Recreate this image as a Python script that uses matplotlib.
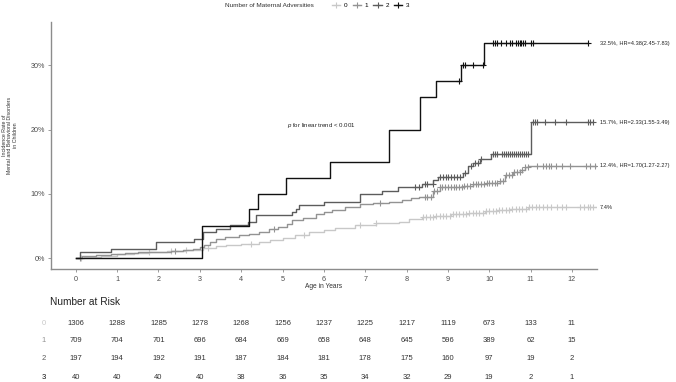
import numpy as np
import matplotlib
matplotlib.use("Agg")
import matplotlib.pyplot as plt
from matplotlib.lines import Line2D
from matplotlib import transforms

plt.rcParams['font.family'] = ['Liberation Sans', 'DejaVu Sans']
plt.rcParams['mathtext.fontset'] = 'custom'
plt.rcParams['mathtext.rm'] = 'Liberation Sans'
plt.rcParams['mathtext.it'] = 'Liberation Sans:italic'

# cumulative incidence (%) step curves
t0 = [0, 0.2, 0.6, 1.0, 1.4, 1.78, 2.2, 2.67, 3.07, 3.4, 3.63, 4.0, 4.43, 4.7, 5.0, 5.3,
      5.64, 6.0, 6.28, 6.76, 7.25, 7.81, 8.05, 8.37, 8.7, 9.08, 9.5, 9.9, 10.2, 10.5, 10.94]
v0 = [0, 0.2, 0.4, 0.6, 0.8, 1.0, 1.15, 1.3, 1.65, 1.85, 2.0, 2.2, 2.5, 2.8, 3.2, 3.6,
      4.1, 4.4, 4.75, 5.1, 5.5, 5.6, 6.15, 6.4, 6.6, 6.9, 7.1, 7.3, 7.5, 7.7, 7.95]
t1 = [0, 0.15, 0.5, 0.86, 1.2, 1.5, 1.94, 2.3, 2.6, 2.83, 3.0, 3.1, 3.25, 3.4, 3.6, 3.95,
      4.2, 4.43, 4.67, 4.9, 5.1, 5.24, 5.5, 5.8, 6.0, 6.2, 6.5, 6.88, 7.2, 7.57, 7.9, 8.12,
      8.3, 8.44, 8.64, 8.8, 9.1, 9.4, 9.6, 9.93, 10.25, 10.37, 10.57, 10.75, 10.86, 10.94]
v1 = [0, 0.3, 0.5, 0.7, 0.8, 0.9, 1.0, 1.15, 1.3, 1.5, 1.7, 2.1, 2.6, 3.05, 3.3, 3.6,
      3.8, 4.1, 4.5, 4.9, 5.4, 5.9, 6.3, 6.9, 7.2, 7.55, 7.9, 8.4, 8.55, 8.7, 9.0, 9.35,
      9.45, 9.55, 10.45, 11.0, 11.1, 11.2, 11.6, 11.75, 12.0, 12.9, 13.4, 13.75, 14.2, 14.4]
t2 = [0, 0.11, 0.86, 1.93, 2.87, 3.07, 3.40, 3.72, 4.17, 4.37, 5.24, 5.32, 5.4, 6.0, 6.88,
      7.4, 7.8, 8.37, 8.65, 8.77, 9.37, 9.49, 9.61, 9.78, 10.05, 11.02]
v2 = [0, 1.0, 1.5, 2.55, 3.0, 4.1, 4.6, 5.1, 5.6, 6.7, 7.2, 7.7, 8.2, 8.7, 10.0,
      10.5, 11.05, 11.6, 12.2, 12.7, 13.3, 14.3, 14.8, 15.4, 16.2, 21.1]
t3 = [0, 3.05, 4.2, 4.4, 5.09, 6.14, 7.58, 8.33, 8.71, 9.32, 9.88]
v3 = [0, 5.0, 7.6, 10.0, 12.5, 15.0, 20.0, 25.0, 27.5, 30.0, 33.4]
end_times = [12.58, 12.58, 12.5, 12.39]

# censoring marks (years)
c0 = [0.12, 1.78, 2.3, 2.67, 3.2, 4.23, 5.53, 6.87, 7.27, 8.4, 8.48, 8.56, 8.64, 8.72,
      8.8, 8.88, 8.96, 9.04, 9.12, 9.2, 9.28, 9.36, 9.44, 9.52, 9.6, 9.68, 9.76, 9.84,
      9.92, 10.0, 10.08, 10.16, 10.24, 10.32, 10.4, 10.48, 10.56, 10.64, 10.72, 10.8,
      10.88, 10.96, 11.04, 11.12, 11.2, 11.3, 11.4, 11.5, 11.65, 11.75, 11.85, 12.2,
      12.3, 12.38, 12.45, 12.52]
c1 = [0.1, 2.4, 4.8, 7.35, 8.45, 8.5, 8.58, 8.66, 8.74, 8.8, 8.87, 8.94, 9.0, 9.07,
      9.14, 9.2, 9.27, 9.34, 9.4, 9.47, 9.54, 9.6, 9.67, 9.74, 9.8, 9.87, 9.94, 10.0,
      10.07, 10.14, 10.2, 10.27, 10.34, 10.4, 10.47, 10.54, 10.6, 10.67, 10.74, 10.8,
      10.87, 10.93, 11.15, 11.3, 11.38, 11.45, 11.5, 11.62, 11.75, 11.95, 12.35, 12.45,
      12.55]
c2 = [8.2, 8.3, 8.44, 8.5, 8.64, 8.8, 8.88, 8.95, 9.0, 9.08, 9.15, 9.22, 9.3, 9.41,
      9.57, 9.65, 9.72, 9.8, 10.1, 10.15, 10.2, 10.3, 10.35, 10.4, 10.45, 10.5, 10.55,
      10.6, 10.65, 10.7, 10.75, 10.8, 10.85, 10.9, 10.95, 11.05, 11.1, 11.15, 11.35,
      11.6, 11.85, 12.4, 12.45, 12.5]
c3 = [9.28, 9.37, 9.41, 9.6, 9.85, 10.08, 10.13, 10.19, 10.29, 10.41, 10.5, 10.56,
      10.64, 10.7, 10.74, 10.78, 10.82, 10.86, 11.0, 11.06, 12.39]

groups = ['0', '1', '2', '3']
colors = ['#c8c8c8', '#939393', '#5c5c5c', '#111111']
end_labels = ['7.4%', '12.4%, HR=1.70(1.27-2.27)', '15.7%, HR=2.33(1.55-3.49)',
              '32.5%, HR=4.38(2.45-7.83)']

risk_years = list(range(13))
risk_0 = [1306, 1288, 1285, 1278, 1268, 1256, 1237, 1225, 1217, 1119, 673, 133, 11]
risk_1 = [709, 704, 701, 696, 684, 669, 658, 648, 645, 596, 389, 62, 15]
risk_2 = [197, 194, 192, 191, 187, 184, 181, 178, 175, 160, 97, 19, 2]
risk_3 = [40, 40, 40, 40, 38, 36, 35, 34, 32, 29, 19, 2, 1]

W, H = 676, 382
fig = plt.figure(figsize=(W / 100, H / 100), dpi=100)
ax = fig.add_axes([51 / W, 1 - 269.3 / H, (596.7 - 51) / W, (269.3 - 22) / H])

curves = [(t0, v0, c0), (t1, v1, c1), (t2, v2, c2), (t3, v3, c3)]
for (t, v, c), col, end, lab in zip(curves, colors, end_times, end_labels):
    t = np.array(t)
    v = np.array(v)
    ax.step(np.append(t, end), np.append(v, v[-1]), where='post', color=col, lw=1.0)
    c = np.array(c)
    cy = v[np.searchsorted(t, c, side='right') - 1]
    ax.plot(c, cy, ls='none', marker='+', ms=4, mew=0.8, color=col)
    ax.text(12.68, v[-1], lab, fontsize=4.1, color='#222222', va='center',
            ha='left', clip_on=False)

ax.text(5.1, 20.7, r'$p$ for linear trend < 0.001', fontsize=4.4, color='#222222',
        va='center')

ax.set_xlim(-0.6, 12.6)
ax.set_ylim(-1.71, 36.7)
ax.set_xticks(risk_years)
ax.set_yticks([0, 10, 20, 30])
ax.set_yticklabels(['0%', '10%', '20%', '30%'])
for s in ['top', 'right']:
    ax.spines[s].set_visible(False)
for s in ['left', 'bottom']:
    ax.spines[s].set_color('#8c8c8c')
    ax.spines[s].set_linewidth(1.0)
ax.tick_params(labelsize=5.2, colors='#8c8c8c', labelcolor='#4d4d4d', length=2.5,
               width=0.6, pad=2.0)
ax.set_xlabel('Age in Years', fontsize=4.8, color='#333333', labelpad=0.5)

fig.text(10 / W, 1 - 135.5 / H, 'Incidence Rate of\nMental and Behavioral Disorders\nin Children',
         rotation=90, ha='center', va='center', fontsize=3.8, color='#333333',
         linespacing=1.05, multialignment='center')

# legend row at top
fig.text(225 / W, 1 - 5.5 / H, 'Number of Maternal Adversities', fontsize=4.6,
         color='#333333', va='center', ha='left')
handles = [Line2D([], [], color=col, lw=1.0, marker='+', ms=4, mew=0.8) for col in colors]
fig.legend(handles, groups, loc='center left', bbox_to_anchor=(332 / W, 1 - 5.5 / H),
           ncol=4, frameon=False, fontsize=4.6, handlelength=1.3, handletextpad=0.6,
           columnspacing=0.77, borderpad=0, borderaxespad=0)

# number at risk table
tr = transforms.blended_transform_factory(ax.transData, fig.transFigure)
fig.text(50 / W, 1 - 301.7 / H, 'Number at Risk', fontsize=7.3, color='#222222',
         va='center', ha='left')
row_y = [323.3, 340.7, 359.0, 377.3]
for g, counts, col, py in zip(groups, [risk_0, risk_1, risk_2, risk_3], colors, row_y):
    fig.text(44 / W, 1 - py / H, g, fontsize=5.5, color=col, va='center', ha='center')
    for x, n in zip(risk_years, counts):
        fig.text(x, 1 - py / H, str(n), transform=tr, fontsize=5.5, color='#333333',
                 va='center', ha='center')

fig.savefig('out.png', dpi=100)
